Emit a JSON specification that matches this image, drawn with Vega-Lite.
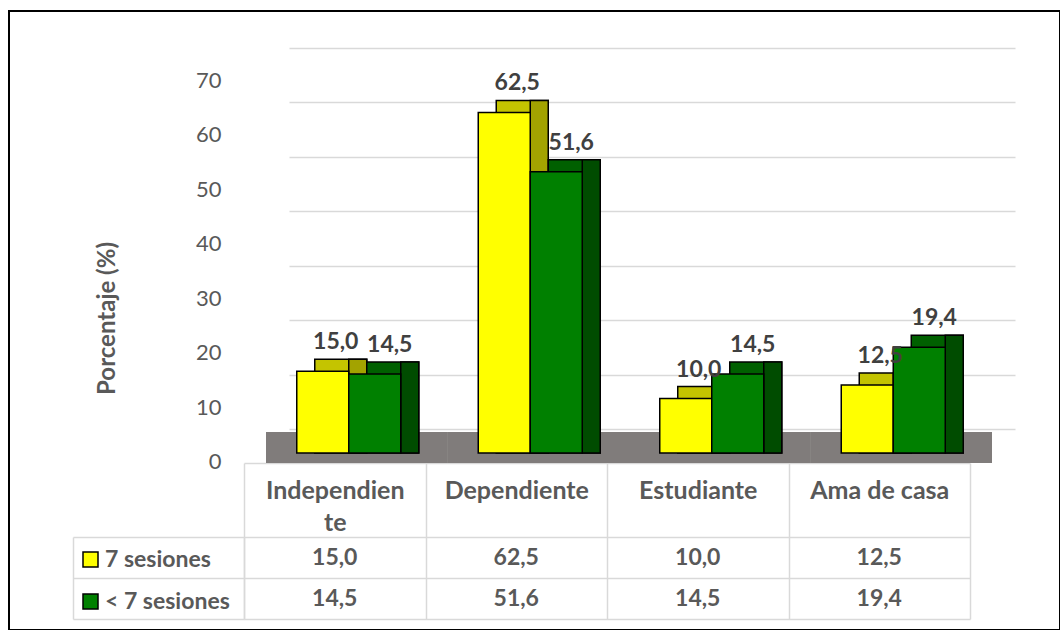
{
  "$schema": "https://vega.github.io/schema/vega-lite/v6.json",
  "width": 1060,
  "height": 630,
  "autosize": {"type": "fit", "contains": "padding"},
  "padding": {"left": 9, "top": 11, "right": 0, "bottom": 0},
  "background": "white",
  "config": {
    "view": {"stroke": "black", "strokeWidth": 2},
    "font": "Lato",
    "locale": {"number": {"decimal": ",", "thousands": ".", "grouping": [3], "currency": ["", " €"]}}
  },
  "data": {
    "values": [
      {"categoria": "Independiente", "serie": "7 sesiones", "valor": 15.0},
      {"categoria": "Independiente", "serie": "< 7 sesiones", "valor": 14.5},
      {"categoria": "Dependiente", "serie": "7 sesiones", "valor": 62.5},
      {"categoria": "Dependiente", "serie": "< 7 sesiones", "valor": 51.6},
      {"categoria": "Estudiante", "serie": "7 sesiones", "valor": 10.0},
      {"categoria": "Estudiante", "serie": "< 7 sesiones", "valor": 14.5},
      {"categoria": "Ama de casa", "serie": "7 sesiones", "valor": 12.5},
      {"categoria": "Ama de casa", "serie": "< 7 sesiones", "valor": 19.4}
    ]
  },
  "layer": [
    {
      "layer": [
        {
          "mark": {"type": "bar", "color": "#807C7B", "xOffset": -23},
          "encoding": {
            "x": {
              "field": "categoria", "type": "nominal",
              "scale": {"type": "band", "domain": ["Independiente", "Dependiente", "Estudiante", "Ama de casa"], "range": [280, 1006], "paddingInner": 0, "paddingOuter": 0},
              "axis": null
            },
            "y": {
              "datum": 3.85, "type": "quantitative",
              "scale": {"domain": [0, 70], "range": [442, 60.5], "nice": false, "zero": true},
              "axis": {
                "orient": "left", "offset": -235, "title": "Porcentaje (%)",
                "values": [0, 10, 20, 30, 40, 50, 60, 70],
                "domain": false, "ticks": false,
                "grid": true, "gridColor": "#d9d9d9", "gridWidth": 1.5,
                "tickOffset": -24, "labelOffset": 32.5, "labelPadding": 23,
                "labelFont": "Lato", "labelFontSize": 22, "labelColor": "#595959",
                "titleFont": "Lato", "titleFontSize": 24, "titleFontWeight": "bold", "titleColor": "#595959",
                "titleX": -137, "titleY": 307, "titleAngle": -90, "titleAlign": "center", "titleBaseline": "middle"
              }
            },
            "y2": {"datum": -1.83}
          }
        },
        {
          "transform": [{"filter": "datum.serie === '7 sesiones'"}],
          "mark": {"type": "bar", "width": 52, "xOffset": -39, "yOffset": -12, "y2Offset": -12, "color": "#C4C400", "stroke": "black", "strokeWidth": 1.5},
          "encoding": {
            "x": {"field": "categoria", "type": "nominal", "axis": null},
            "y": {"field": "valor", "type": "quantitative", "stack": null}
          }
        },
        {
          "transform": [{"filter": "datum.serie === '7 sesiones'"}],
          "mark": {"type": "bar", "width": 18, "xOffset": -22, "yOffset": -12, "y2Offset": -12, "color": "#A3A300", "stroke": "black", "strokeWidth": 1.5},
          "encoding": {
            "x": {"field": "categoria", "type": "nominal", "axis": null},
            "y": {"field": "valor", "type": "quantitative", "stack": null}
          }
        },
        {
          "transform": [{"filter": "datum.serie === '7 sesiones'"}],
          "mark": {"type": "bar", "width": 52, "xOffset": -57, "stroke": "black", "strokeWidth": 1.5, "opacity": 1},
          "encoding": {
            "x": {"field": "categoria", "type": "nominal", "axis": null},
            "y": {"field": "valor", "type": "quantitative", "stack": null},
            "color": {
              "field": "serie", "type": "nominal",
              "scale": {"domain": ["7 sesiones", "< 7 sesiones"], "range": ["#FFFF00", "#008000"]},
              "legend": {
                "title": null, "orient": "none", "legendX": 70, "legendY": 537, "padding": 0,
                "symbolType": "square", "symbolSize": 225, "symbolStrokeColor": "black", "symbolStrokeWidth": 1.5, "symbolOpacity": 1,
                "labelFont": "Lato", "labelFontWeight": "bold", "labelFontSize": 23, "labelColor": "#595959",
                "labelOffset": 3, "rowPadding": 18
              }
            }
          }
        },
        {
          "transform": [{"filter": "datum.serie === '< 7 sesiones'"}],
          "mark": {"type": "bar", "width": 52, "xOffset": 13, "yOffset": -12, "y2Offset": -12, "color": "#006000", "stroke": "black", "strokeWidth": 1.5},
          "encoding": {
            "x": {"field": "categoria", "type": "nominal", "axis": null},
            "y": {"field": "valor", "type": "quantitative", "stack": null}
          }
        },
        {
          "transform": [{"filter": "datum.serie === '< 7 sesiones'"}],
          "mark": {"type": "bar", "width": 18, "xOffset": 30, "yOffset": -12, "y2Offset": -12, "color": "#004C00", "stroke": "black", "strokeWidth": 1.5},
          "encoding": {
            "x": {"field": "categoria", "type": "nominal", "axis": null},
            "y": {"field": "valor", "type": "quantitative", "stack": null}
          }
        },
        {
          "transform": [{"filter": "datum.serie === '< 7 sesiones'"}],
          "mark": {"type": "bar", "width": 52, "xOffset": -5, "stroke": "black", "strokeWidth": 1.5, "opacity": 1},
          "encoding": {
            "x": {"field": "categoria", "type": "nominal", "axis": null},
            "y": {"field": "valor", "type": "quantitative", "stack": null},
            "color": {"field": "serie", "type": "nominal"}
          }
        },
        {
          "transform": [{"filter": "datum.serie === '7 sesiones'"}],
          "mark": {"type": "text", "font": "Lato", "fontWeight": "bold", "fontSize": 23, "color": "#404040", "baseline": "alphabetic", "dy": -22, "dx": -44},
          "encoding": {
            "x": {"field": "categoria", "type": "nominal", "axis": null},
            "y": {"field": "valor", "type": "quantitative"},
            "text": {"field": "valor", "type": "quantitative", "format": ".1f"}
          }
        },
        {
          "transform": [{"filter": "datum.serie === '< 7 sesiones'"}],
          "mark": {"type": "text", "font": "Lato", "fontWeight": "bold", "fontSize": 23, "color": "#404040", "baseline": "alphabetic", "dy": -22, "dx": 10},
          "encoding": {
            "x": {"field": "categoria", "type": "nominal", "axis": null},
            "y": {"field": "valor", "type": "quantitative"},
            "text": {"field": "valor", "type": "quantitative", "format": ".1f"}
          }
        }
      ]
    },
    {
      "layer": [
        {
          "mark": {"type": "text", "font": "Lato", "fontWeight": "bold", "fontSize": 23, "color": "#595959"},
          "encoding": {
            "x": {
              "field": "categoria", "type": "nominal",
              "scale": {"type": "band", "domain": ["Independiente", "Dependiente", "Estudiante", "Ama de casa"], "range": [235, 961], "paddingInner": 0, "paddingOuter": 0},
              "axis": {
                "orient": "bottom", "offset": -167, "title": null, "grid": false,
                "domain": true, "domainColor": "#d9d9d9", "domainWidth": 1.5,
                "ticks": true, "tickBand": "extent", "tickSize": 156, "tickColor": "#d9d9d9", "tickWidth": 1.5,
                "labelAngle": 0, "labelFont": "Lato", "labelFontWeight": "bold", "labelFontSize": 25, "labelColor": "#595959",
                "labelBaseline": "alphabetic", "labelPadding": -121, "labelLineHeight": 32,
                "labelExpr": "datum.value == 'Independiente' ? ['Independien', 'te'] : datum.value"
              }
            },
            "y": {
              "field": "serie", "type": "nominal",
              "scale": {"type": "band", "domain": ["7 sesiones", "< 7 sesiones"], "range": [526, 608], "paddingInner": 0, "paddingOuter": 0},
              "axis": {
                "orient": "left", "offset": -235, "title": null, "labels": false,
                "domain": true, "domainColor": "#d9d9d9", "domainWidth": 1.5,
                "ticks": true, "tickBand": "extent", "tickSize": 171, "tickColor": "#d9d9d9", "tickWidth": 1.5,
                "grid": true, "gridColor": "#d9d9d9", "gridWidth": 1.5
              }
            },
            "text": {"field": "valor", "type": "quantitative", "format": ".1f"}
          }
        },
        {
          "mark": {"type": "text", "text": ""},
          "encoding": {
            "y": {
              "field": "serie", "type": "nominal",
              "scale": {"type": "band", "domain": ["7 sesiones", "< 7 sesiones"], "range": [526, 608], "paddingInner": 0, "paddingOuter": 0},
              "axis": {
                "orient": "left", "offset": -64, "title": null, "labels": false, "ticks": false, "grid": false,
                "domain": true, "domainColor": "#d9d9d9", "domainWidth": 1.5
              }
            }
          }
        }
      ],
      "resolve": {"scale": {"y": "independent"}, "axis": {"y": "independent"}}
    }
  ],
  "resolve": {"scale": {"x": "independent", "y": "independent"}, "axis": {"x": "independent", "y": "independent"}}
}
